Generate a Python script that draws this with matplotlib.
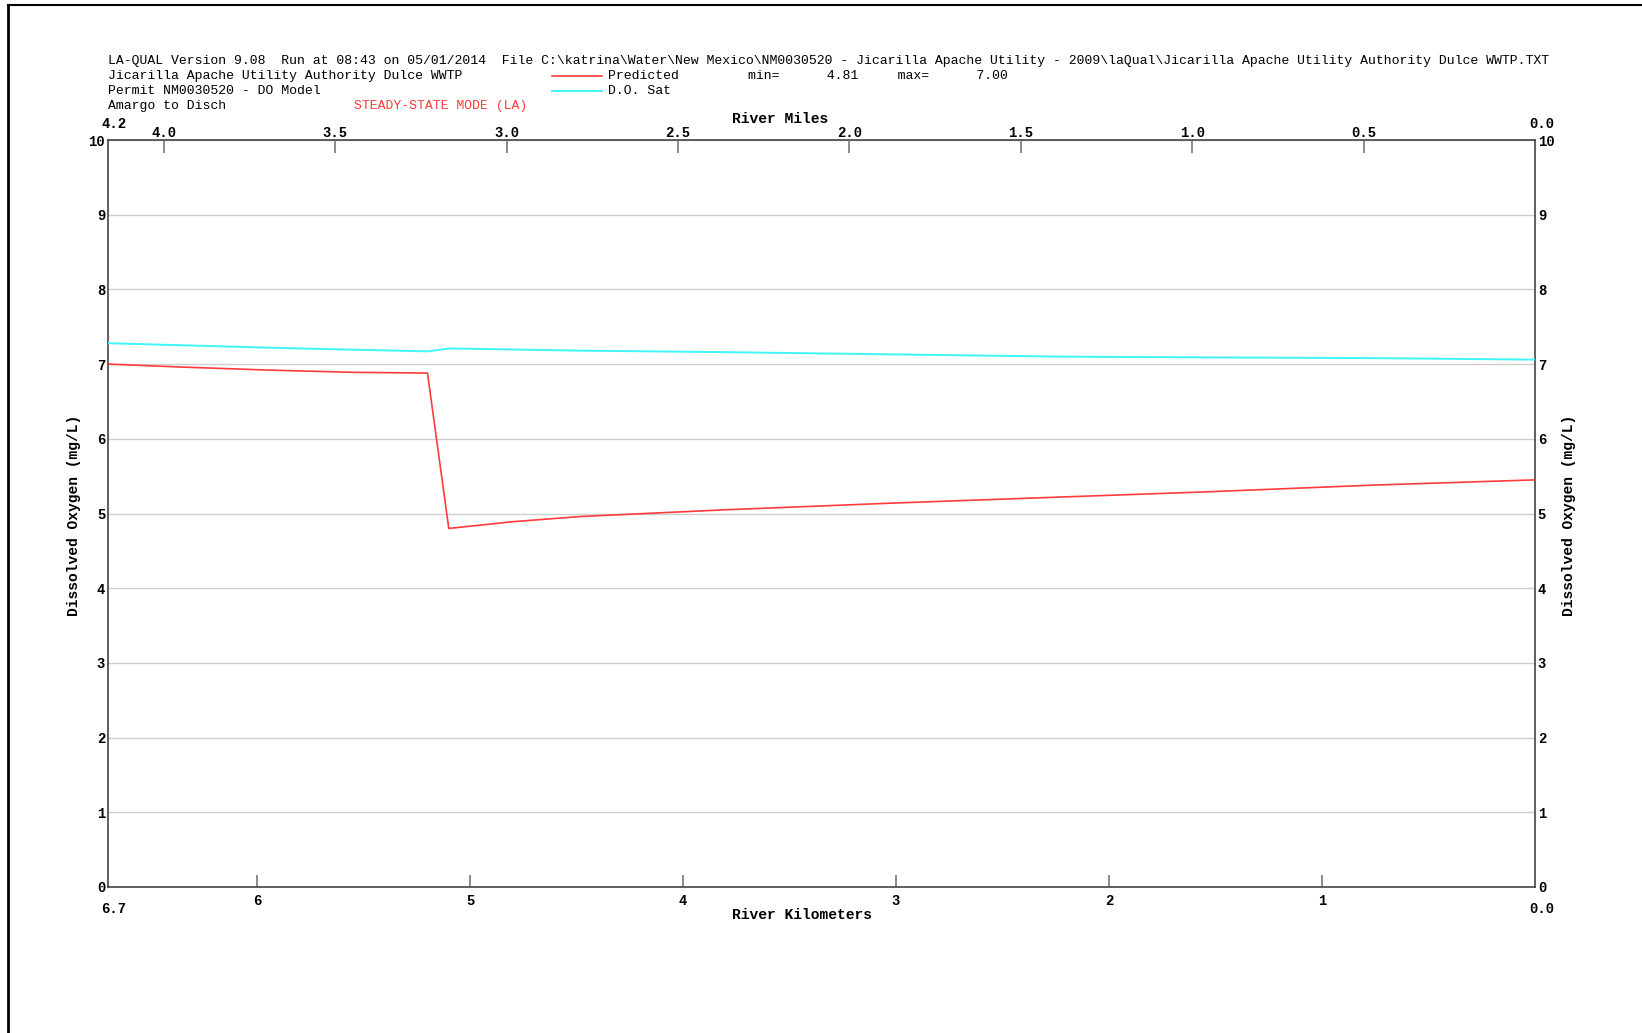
import matplotlib.pyplot as plt
from matplotlib.lines import Line2D
import numpy as np

# river kilometers (6.7 upstream -> 0.0 downstream) and dissolved oxygen, mg/L
km_pred = [6.70, 6.35, 5.95, 5.55, 5.20, 5.10, 4.80, 4.48, 3.80, 3.01, 2.23, 1.54, 0.76, 0.00]
do_pred = [7.00, 6.96, 6.92, 6.89, 6.88, 4.80, 4.89, 4.96, 5.05, 5.14, 5.22, 5.29, 5.38, 5.45]

km_sat = [6.70, 5.95, 5.20, 5.10, 4.48, 3.80, 3.01, 2.23, 1.54, 0.76, 0.00]
do_sat = [7.28, 7.22, 7.17, 7.21, 7.18, 7.16, 7.13, 7.10, 7.09, 7.08, 7.06]

km_ticks = [6, 5, 4, 3, 2, 1]
mi_ticks = [4.0, 3.5, 3.0, 2.5, 2.0, 1.5, 1.0, 0.5]
y_ticks = list(range(0, 11))

header_lines = [
    "LA-QUAL Version 9.08  Run at 08:43 on 05/01/2014  File C:\\katrina\\Water\\New Mexico\\NM0030520 - Jicarilla Apache Utility - 2009\\laQual\\Jicarilla Apache Utility Authority Dulce WWTP.TXT",
    "Jicarilla Apache Utility Authority Dulce WWTP",
    "Permit NM0030520 - DO Model",
    "Amargo to Disch",
]

KM_PER_MI = 1.609344
RED = '#ff3b3b'
CYAN = '#3ff5f5'
MONO = 'Liberation Mono'

W, H = 1642, 1033
fig = plt.figure(figsize=(W / 100, H / 100), dpi=100)

def fx(px):
    return px / W

def fy(py):
    return 1 - py / H

ax = fig.add_axes([fx(108), fy(887), fx(1535) - fx(108), fy(140) - fy(887)])

ax.plot(km_pred, do_pred, color=RED, lw=1.2, zorder=3)
ax.plot(km_sat, do_sat, color=CYAN, lw=1.4, zorder=3)

ax.set_xlim(6.7, 0)
ax.set_ylim(0, 10)
ax.set_yticks(y_ticks)
ax.grid(axis='y', color='#cfcfcf', lw=1.0)
ax.set_axisbelow(True)

for s in ax.spines.values():
    s.set_color('#444444')
    s.set_linewidth(1.2)

ax.set_xticks(km_ticks)
ax.set_xticklabels([str(k) for k in km_ticks])
ax.tick_params(axis='x', direction='in', length=9, width=1.2, color='#777777', pad=5)
ax.tick_params(axis='y', length=0, pad=2, labelright=True, right=False)
for lab in ax.get_xticklabels() + ax.get_yticklabels():
    lab.set_fontfamily(MONO)
    lab.set_fontweight('bold')
    lab.set_fontsize(10)
for t in ax.yaxis.get_major_ticks():
    t.label2.set_fontfamily(MONO)
    t.label2.set_fontweight('bold')
    t.label2.set_fontsize(10)

# top axis in river miles
top = ax.secondary_xaxis('top', functions=(lambda k: k / KM_PER_MI, lambda m: m * KM_PER_MI))
top.set_xticks(mi_ticks)
top.set_xticklabels(['%.1f' % m for m in mi_ticks])
top.tick_params(direction='in', length=9, width=1.2, color='#777777', pad=0)
top.spines['top'].set_visible(False)
for lab in top.get_xticklabels():
    lab.set_fontfamily(MONO)
    lab.set_fontweight('bold')
    lab.set_fontsize(10)

# axis titles
lbl = dict(fontfamily=MONO, fontweight='bold', fontsize=10.5, ha='center', va='center')
fig.text(fx(802), fy(915), 'River Kilometers', **lbl)
fig.text(fx(780), fy(119), 'River Miles', **lbl)
fig.text(fx(74), fy(515), 'Dissolved Oxygen (mg/L)', rotation=90, **lbl)
fig.text(fx(1569), fy(515), 'Dissolved Oxygen (mg/L)', rotation=90, **lbl)

# end labels of the distance axes
corner = dict(fontfamily=MONO, fontweight='bold', fontsize=10, ha='center', va='center')
fig.text(fx(114), fy(124), '%.1f' % (km_pred[0] / KM_PER_MI), **corner)
fig.text(fx(1542), fy(124), '0.0', **corner)
fig.text(fx(114), fy(909), '%.1f' % km_pred[0], **corner)
fig.text(fx(1542), fy(909), '0.0', **corner)

# header block
hdr = dict(fontfamily=MONO, fontsize=9.45, va='center', ha='left')
for i, line in enumerate(header_lines):
    fig.text(fx(108), fy(61 + i * 15), line, **hdr)
fig.text(fx(354), fy(106), 'STEADY-STATE MODE (LA)', color=RED, **hdr)
fig.add_artist(Line2D([fx(552), fx(602)], [fy(76), fy(76)], color=RED, lw=1.2))
fig.add_artist(Line2D([fx(552), fx(602)], [fy(91), fy(91)], color=CYAN, lw=1.4))
fig.text(fx(608), fy(76), 'Predicted', **hdr)
fig.text(fx(608), fy(91), 'D.O. Sat', **hdr)
fig.text(fx(748), fy(76), 'min=      %.2f     max=      %.2f' % (min(do_pred) + 0.01, max(do_pred)), **hdr)

# page frame
fig.add_artist(Line2D([fx(8), 1], [fy(5), fy(5)], color='black', lw=1.5))
fig.add_artist(Line2D([fx(8), fx(8)], [fy(5), 0], color='black', lw=2))

fig.savefig('out.png', dpi=100)
